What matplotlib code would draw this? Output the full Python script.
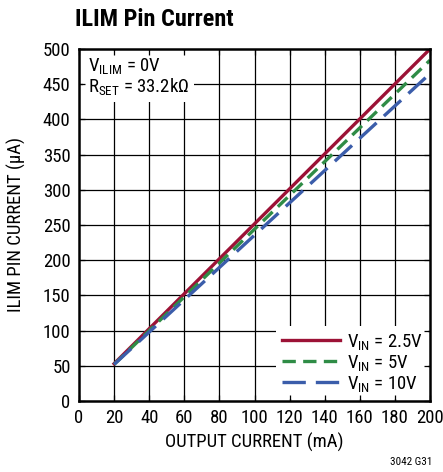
import matplotlib
matplotlib.use("Agg")
import matplotlib.pyplot as plt
from matplotlib import font_manager

names = {f.name for f in font_manager.fontManager.ttflist}
FAM = "Roboto Condensed" if "Roboto Condensed" in names else "Liberation Sans"
plt.rcParams['font.family'] = [FAM, 'DejaVu Sans']
plt.rcParams['mathtext.fontset'] = 'custom'
plt.rcParams['mathtext.rm'] = FAM
plt.rcParams['mathtext.it'] = FAM
plt.rcParams['mathtext.bf'] = FAM + ":bold"

# Data
output_current = [20, 200]
vin_2_5 = [53, 500]
vin_5 = [52, 484]
vin_10 = [52, 465]
x_ticks = [0, 20, 40, 60, 80, 100, 120, 140, 160, 180, 200]
y_ticks = [0, 50, 100, 150, 200, 250, 300, 350, 400, 450, 500]

W, H = 443, 472
FS = 13.5
fig = plt.figure(figsize=(W / 100, H / 100), dpi=100)
ax = fig.add_axes([79 / W, 1 - 401 / H, (430 - 79) / W, (401 - 49) / H])
ax.set_xlim(0, 200)
ax.set_ylim(0, 500)

for xv in x_ticks[1:-1]:
    ax.axvline(xv, color='black', lw=0.9, zorder=0.8)
for yv in y_ticks[1:-1]:
    ax.axhline(yv, color='black', lw=0.9, zorder=0.8)

ax.plot(output_current, vin_2_5, color='#9C1236', lw=2.4, label=r"V$_{\rm IN}$ = 2.5V", zorder=3)
ax.plot(output_current, vin_5, color='#2F8C46', lw=2.4, dashes=(4, 2.2), label=r"V$_{\rm IN}$ = 5V", zorder=3)
ax.plot(output_current, vin_10, color='#3B5DAA', lw=2.4, dashes=(7, 3), label=r"V$_{\rm IN}$ = 10V", zorder=3)

ax.set_xticks(x_ticks)
ax.set_yticks(y_ticks)
ax.tick_params(direction='in', length=4, width=0.9, top=True, right=True, labelsize=FS, pad=6, color='black')
for s in ax.spines.values():
    s.set_linewidth(1.8)
    s.set_zorder(4)

ax.set_xlabel("OUTPUT CURRENT (mA)", fontsize=FS, labelpad=4)
ax.set_ylabel("ILIM PIN CURRENT (µA)", fontsize=FS, labelpad=12)

leg = ax.legend(loc='lower right', frameon=True, fontsize=FS, handlelength=3.1,
                borderpad=0.3, labelspacing=0.05, handletextpad=0.35, borderaxespad=0.1,
                fancybox=False)
leg.get_frame().set_edgecolor('none')
leg.get_frame().set_facecolor('white')
leg.get_frame().set_alpha(1)
leg.set_zorder(1)

ax.text(0.025, 0.98, "V$_{\\rm ILIM}$ = 0V\nR$_{\\rm SET}$ = 33.2kΩ", transform=ax.transAxes,
        ha='left', va='top', fontsize=FS, linespacing=1.0, zorder=1,
        bbox=dict(facecolor='white', edgecolor='none', pad=3.5))

fig.text(75 / W, 1 - 19 / H, "ILIM Pin Current", fontsize=17.5, fontweight='bold', ha='left', va='center')
fig.text(432 / W, 1 - 462 / H, "3042 G31", fontsize=8, ha='right', va='center')

fig.savefig("out.png", dpi=100)
